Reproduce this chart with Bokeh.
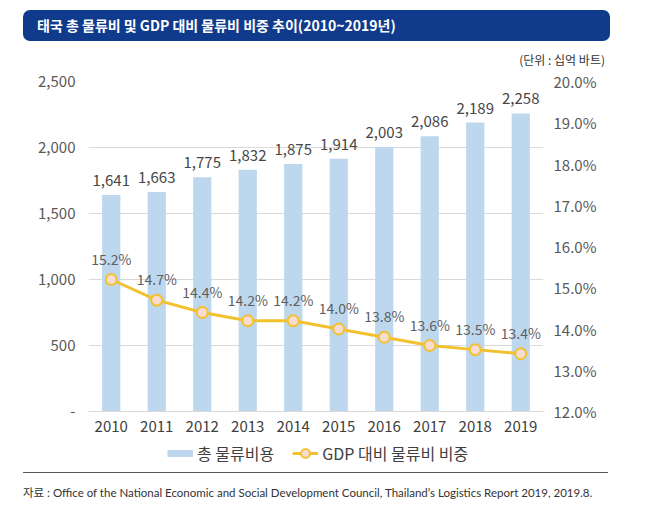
from bokeh.plotting import figure
from bokeh.models import (ColumnDataSource, FactorRange, Range1d, LinearAxis, FixedTicker,
                          NumeralTickFormatter, PrintfTickFormatter, Legend, LegendItem, Div)
from bokeh.layouts import column
from bokeh.embed import file_html
from bokeh.resources import INLINE
from bokeh.core.properties import value

# ---------------- data ----------------
years = ["2010", "2011", "2012", "2013", "2014", "2015", "2016", "2017", "2018", "2019"]
logistics_cost = [1641, 1663, 1775, 1832, 1875, 1914, 2003, 2086, 2189, 2258]
gdp_share = [15.2, 14.7, 14.4, 14.2, 14.2, 14.0, 13.8, 13.6, 13.5, 13.4]
left_ticks = [0, 500, 1000, 1500, 2000, 2500]
right_ticks = [12, 13, 14, 15, 16, 17, 18, 19, 20]
legend_labels = ["총 물류비용", "GDP 대비 물류비 비중"]
title_text = "태국 총 물류비 및 GDP 대비 물류비 비중 추이(2010~2019년)"
unit_text = "(단위 : 십억 바트)"
source_text = ("자료 : Office of the National Economic and Social Development Council, "
               "Thailand’s Logistics Report 2019, 2019.8.")

cost_labels = [f"{v:,}" for v in logistics_cost]
share_labels = [f"{v:.1f}%" for v in gdp_share]

FONT = "Noto Sans CJK KR"
W = 640
BAR_COLOR = "#BDD7EE"
LINE_COLOR = "#F2C12E"
MARKER_FILL = "#F8DCD0"
NAVY = "#103B8C"

# layout geometry (px)
FRAME_TOP, ZERO_Y, FRAME_BOTTOM = 81, 411, 472   # page y of frame top, value-axis zero, frame bottom
PLOT_H = ZERO_Y - FRAME_TOP                      # height of the 0..max value area
EXTRA = (FRAME_BOTTOM - ZERO_Y) / PLOT_H         # fraction of extra room below zero (legend)
L_MIN, L_MAX = 0, 2500
R_MIN, R_MAX = 12, 20

# ---------------- header (HTML) ----------------
header_html = (
    '<div style="padding-top:10px; width:640px; height:60px;">'
    f'<div style="margin-left:23px; width:587px; height:31px; background:{NAVY}; '
    'border-radius:7px; color:#ffffff; font-family:\'Noto Sans CJK KR\', sans-serif; '
    'font-size:14px; font-weight:bold; line-height:31px; padding-left:14px; '
    f'box-sizing:border-box; white-space:nowrap;">{title_text}</div>'
    '<div style="width:605px; text-align:right; margin-top:11px; color:#333333; '
    'font-family:\'Noto Sans CJK KR\', sans-serif; font-size:12px; line-height:16px; '
    f'white-space:nowrap;">{unit_text}</div>'
    '</div>'
)
header = Div(text=header_html, width=W, height=70, margin=0)

# ---------------- main chart ----------------
src = ColumnDataSource(dict(year=years, cost=logistics_cost, share=gdp_share,
                            cost_label=cost_labels, share_label=share_labels))

p = figure(width=W, height=11 + FRAME_BOTTOM - FRAME_TOP,
           x_range=FactorRange(factors=years),
           y_range=Range1d(L_MIN - (L_MAX - L_MIN) * EXTRA, L_MAX),
           min_border_left=88, min_border_right=W - 543, min_border_top=11, min_border_bottom=0,
           outline_line_color=None, toolbar_location=None, output_backend="svg", margin=0)
p.extra_y_ranges = {"pct": Range1d(R_MIN - (R_MAX - R_MIN) * EXTRA, R_MAX)}

bars = p.vbar(x="year", top="cost", width=0.4, source=src, fill_color=BAR_COLOR, line_color=None)
line = p.line(x="year", y="share", source=src, y_range_name="pct",
              line_color=LINE_COLOR, line_width=3)
marks = p.scatter(x="year", y="share", source=src, y_range_name="pct", size=11,
                  fill_color=MARKER_FILL, line_color=LINE_COLOR, line_width=2)

p.text(x="year", y="cost", text="cost_label", source=src, y_offset=-9,
       text_align="center", text_baseline="bottom", text_font=value(FONT),
       text_font_size="15px", text_color="#474747")
p.text(x="year", y="share", text="share_label", source=src, y_range_name="pct", y_offset=-11,
       text_align="center", text_baseline="bottom", text_font=value(FONT),
       text_font_size="14px", text_color="#5f5f5f")

# left axis
p.yaxis.ticker = FixedTicker(ticks=left_ticks)
p.yaxis.formatter = NumeralTickFormatter(format="0,0")
p.yaxis.major_label_overrides = {0: "-"}
p.yaxis.axis_line_color = None
p.yaxis.major_tick_line_color = None
p.yaxis.minor_tick_line_color = None
p.yaxis.major_tick_out = 0
p.yaxis.major_label_standoff = 13
p.yaxis.major_label_text_font = FONT
p.yaxis.major_label_text_font_size = "15px"
p.yaxis.major_label_text_color = "#595959"

# right axis
ax2 = LinearAxis(y_range_name="pct", ticker=FixedTicker(ticks=right_ticks),
                 formatter=PrintfTickFormatter(format="%.1f%%"))
ax2.axis_line_color = None
ax2.major_tick_line_color = None
ax2.minor_tick_line_color = None
ax2.major_tick_out = 0
ax2.major_label_standoff = 10
ax2.major_label_text_font = FONT
ax2.major_label_text_font_size = "15px"
ax2.major_label_text_color = "#595959"
p.add_layout(ax2, "right")

# category axis sits on the zero line
p.xaxis.fixed_location = L_MIN
p.xaxis.axis_line_color = "#D9D9D9"
p.xaxis.major_tick_line_color = None
p.xaxis.minor_tick_line_color = None
p.xaxis.major_tick_out = 0
p.xaxis.major_label_standoff = 9
p.xaxis.major_label_text_font = FONT
p.xaxis.major_label_text_font_size = "15px"
p.xaxis.major_label_text_color = "#404040"

p.xgrid.grid_line_color = None
p.ygrid.ticker = FixedTicker(ticks=left_ticks)
p.ygrid.grid_line_color = "#D9D9D9"

# legend swatch for the bars: a single-point line (draws nothing in the plot)
swatch = p.line(x=[years[0]], y=[L_MIN], line_color=BAR_COLOR, line_width=7, line_cap="butt")
legend = Legend(items=[LegendItem(label=legend_labels[0], renderers=[swatch]),
                       LegendItem(label=legend_labels[1], renderers=[line, marks])],
                orientation="horizontal", location=(167 - 88, FRAME_BOTTOM - 465),
                glyph_width=26, glyph_height=22, label_height=20, label_standoff=4,
                spacing=18, margin=0, padding=1, border_line_color=None,
                background_fill_alpha=0, label_text_font=FONT,
                label_text_font_size="16px", label_text_color="#404040")
p.add_layout(legend, "center")

# ---------------- footer (HTML) ----------------
footer_html = (
    '<div style="margin-left:23px; width:585px; border-top:1.5px solid #595959; '
    'padding-top:11.5px; color:#333333; font-family:Lato, \'Noto Sans CJK KR\', sans-serif; '
    f'font-size:11.5px; line-height:16px; white-space:nowrap;">{source_text}</div>'
)
footer = Div(text=footer_html, width=W, height=44, margin=0)

layout = column(header, p, footer, spacing=0)
open("out.html", "w").write(file_html(layout, INLINE))
